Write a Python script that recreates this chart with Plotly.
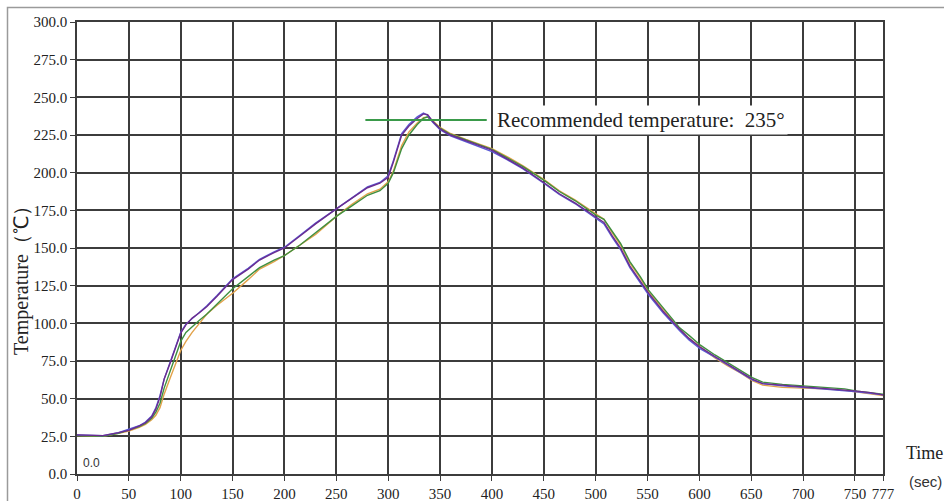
import plotly.graph_objects as go

time_sec = [0, 10, 25, 40, 50, 60, 66, 72, 76, 80, 84, 90, 95, 100, 105, 111, 118, 125, 135, 150,
            165, 176, 190, 200, 215, 230, 250, 265, 280, 292, 300, 305, 313, 320, 328, 334, 338, 343, 350, 360,
            375, 390, 400, 415, 430, 451, 465, 480, 495, 501, 508, 516, 524, 533, 543, 551, 565, 581, 590, 601,
            615, 627, 640, 651, 661, 680, 700, 720, 740, 752, 765, 777]

temp_purple = [26, 26, 25.5, 27.5, 29, 32, 34, 38, 43, 51, 63, 74, 84, 93.5, 99, 103.5, 107, 111, 118, 129,
               136, 142, 147, 150, 158, 166, 176, 183, 190, 193, 197, 207, 225, 231, 236, 239, 238.5, 234, 229, 225,
               221, 217.5, 215, 209, 203, 193, 186, 180, 173, 170, 167, 158, 150, 138, 128, 120, 108, 96, 90, 84,
               78, 73, 68, 63, 60, 59, 58, 57, 56, 55, 54, 52.5]

temp_blue = [26, 26, 25.5, 27.5, 29.5, 32, 34.5, 38.5, 44, 52, 63, 74.5, 85, 94, 99.5, 103, 107.5, 111.5, 118.5, 129.5,
             136.5, 142.5, 147.5, 150.5, 158.5, 166.5, 176, 183.5, 190.5, 193.5, 198, 208, 226, 232, 237, 239.5, 238, 233.5, 228.5, 224.5,
             220.5, 217, 214, 208.5, 202.5, 192.5, 185.5, 179.5, 172.5, 169.5, 166, 157, 149, 137, 127, 119, 107, 95, 89, 83,
             77.5, 72.5, 67.5, 62.5, 60, 58.5, 57.5, 56.5, 55.5, 54.5, 53.5, 52.5]

temp_green = [25.5, 25.5, 25, 27, 29, 31.5, 33.5, 37, 41, 47, 57, 69, 79, 88, 94, 98, 102, 106, 113, 123,
              131, 137, 142, 145, 152, 160, 171, 178, 185, 188, 193, 200, 216, 225, 232, 236, 237, 234, 229.5, 225.5,
              221.5, 218, 215.5, 210, 204, 194.5, 187.5, 181.5, 174.5, 171.5, 169, 161, 153, 141, 131, 122, 110, 97, 92, 85.5,
              79, 74, 69, 64, 61, 59.5, 58.5, 57.5, 56.5, 55, 54, 53]

temp_orange = [25.5, 25.5, 25, 27, 28.5, 31, 33, 36, 39, 44, 53, 64, 73, 82, 88, 94, 100, 106, 112, 120,
               129, 136, 141, 145, 152, 159, 171, 179, 186, 189, 194, 201, 218, 227, 233, 236.5, 237, 234.5, 230, 226,
               222, 218.5, 216, 210.5, 204.5, 195, 188, 182, 175, 172, 169, 160, 152, 140, 130, 121, 109, 96, 90, 84,
               77, 72, 67, 62, 59, 57.5, 57, 56.5, 55.5, 54.5, 53.5, 52]

x_ticks = [0, 50, 100, 150, 200, 250, 300, 350, 400, 450, 500, 550, 600, 650, 700, 750, 777]
y_ticks = [0, 25, 50, 75, 100, 125, 150, 175, 200, 225, 250, 275, 300]
y_tick_labels = [f"{v:.1f}" for v in y_ticks]

recommended_temp = 235
recommended_x = [278, 395]
recommended_label = "Recommended temperature:  235°"

fig = go.Figure()
series = [
    (temp_orange, "#e2a24a"),
    (temp_green, "#3f8f3f"),
    (temp_blue, "#5a5ad6"),
    (temp_purple, "#6b2d8f"),
]
for ys, col in series:
    fig.add_trace(go.Scatter(x=time_sec, y=ys, mode="lines",
                             line=dict(color=col, width=1.4), showlegend=False))

fig.add_trace(go.Scatter(x=recommended_x, y=[recommended_temp] * 2, mode="lines",
                         line=dict(color="#3a9a4a", width=2), showlegend=False))

serif = "Liberation Serif, Times New Roman, serif"
grid_col = "#3c3c3c"

W, H = 944, 501
L, T, R, B = 77, 22, 61, 27

fig.update_layout(
    width=W, height=H,
    margin=dict(l=L, r=R, t=T, b=B),
    paper_bgcolor="white", plot_bgcolor="white",
    xaxis=dict(range=[0, 777], tickvals=x_ticks, ticktext=[str(v) for v in x_ticks],
               showgrid=True, gridcolor=grid_col, gridwidth=1.5, zeroline=False,
               showline=True, linecolor=grid_col, linewidth=1.5, mirror=True,
               ticks="outside", ticklen=5, tickcolor=grid_col,
               tickfont=dict(family=serif, size=15, color="#222"), automargin=False),
    yaxis=dict(range=[0, 300], tickvals=y_ticks, ticktext=y_tick_labels,
               showgrid=True, gridcolor=grid_col, gridwidth=1.5, zeroline=False,
               showline=True, linecolor=grid_col, linewidth=1.5, mirror=True,
               ticks="outside", ticklen=5, tickcolor=grid_col,
               tickfont=dict(family=serif, size=15, color="#222"), automargin=False),
)

pw, ph = W - L - R, H - T - B


def px_to_paper(px, py):
    return (px - L) / pw, (H - B - py) / ph


fig.add_annotation(x=402, y=recommended_temp, xref="x", yref="y", text=recommended_label,
                   showarrow=False, xanchor="left", yanchor="middle",
                   font=dict(family=serif, size=21, color="#222"),
                   bgcolor="white", borderpad=2)
fig.add_annotation(x=4, y=7, xref="x", yref="y", text="0.0", showarrow=False,
                   xanchor="left", yanchor="middle",
                   font=dict(family="Liberation Sans Narrow, Liberation Sans, sans-serif", size=12, color="#333"))
tx, ty = px_to_paper(21, 276)
fig.add_annotation(x=tx, y=ty, xref="paper", yref="paper", text="Temperature（℃）",
                   textangle=-90, showarrow=False, xanchor="center", yanchor="middle",
                   font=dict(family=serif, size=20, color="#222"))
tx, ty = px_to_paper(904, 453)
fig.add_annotation(x=tx, y=ty, xref="paper", yref="paper", text="Time",
                   showarrow=False, xanchor="left", yanchor="middle",
                   font=dict(family=serif, size=18, color="#222"))
tx, ty = px_to_paper(907, 481)
fig.add_annotation(x=tx, y=ty, xref="paper", yref="paper", text="(sec)",
                   showarrow=False, xanchor="left", yanchor="middle",
                   font=dict(family="Liberation Sans Narrow, Liberation Sans, sans-serif", size=15, color="#333"))

# outer frame
x0, y1 = px_to_paper(7.5, 7.5)
x1, y0 = px_to_paper(960, 520)
fig.add_shape(type="rect", xref="paper", yref="paper", x0=x0, x1=x1, y0=y0, y1=y1,
              line=dict(color="#9a9a9a", width=1.5), layer="below")

fig.write_html("out.html", config={"displayModeBar": False},
               post_script="document.body.style.margin='0';document.body.style.overflow='hidden';")
